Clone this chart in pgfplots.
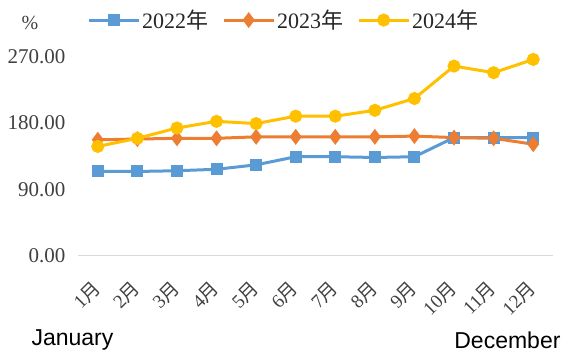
\documentclass[border=0pt]{standalone}
\usepackage{fontspec}
\setmainfont{Liberation Serif}
\newfontfamily\cjk{Noto Sans CJK SC}
\newfontfamily\arialf{Liberation Sans}
\usepackage{pgfplots}
\pgfplotsset{compat=1.18}
\definecolor{c22}{HTML}{5B9BD5}
\definecolor{c23}{HTML}{ED7D31}
\definecolor{c24}{HTML}{FFC000}
\definecolor{txt}{HTML}{404040}
\begin{document}
\begin{tikzpicture}[x=1bp,y=1bp]
\path[use as bounding box] (0,0) rectangle (564,356);
\begin{axis}[
  at={(78bp,100.5bp)}, anchor=south west,
  scale only axis, width=475bp, height=199bp,
  xmin=0.5, xmax=12.5, ymin=0, ymax=270,
  clip=false,
  axis line style={draw=none},
  major tick length=0pt,
  xtick={1,...,12},
  xticklabels={1{\cjk 月},2{\cjk 月},3{\cjk 月},4{\cjk 月},5{\cjk 月},6{\cjk 月},7{\cjk 月},8{\cjk 月},9{\cjk 月},10{\cjk 月},11{\cjk 月},12{\cjk 月}},
  x tick label style={rotate=45, anchor=east, font=\fontsize{19bp}{19bp}\selectfont, text=txt, xshift=-18bp, yshift=-20bp},
  ytick={0,90,180,270},
  yticklabel style={font=\fontsize{21bp}{21bp}\selectfont, text=txt, xshift=-9bp},
  /pgf/number format/assume math mode=true,
  yticklabel={\pgfmathprintnumber[fixed,fixed zerofill,precision=2]{\tick}},
  legend columns=3,
  legend style={at={(0.019,1.183)}, anchor=west, draw=none, fill=none, inner sep=0pt,
    font=\fontsize{22bp}{22bp}\selectfont, text=black!85,
    /tikz/every even column/.append style={column sep=12bp}},
  legend image code/.code={\draw[mark repeat=2,mark phase=2,#1] plot coordinates {(0bp,0bp)(25bp,0bp)(50bp,0bp)};},
]
\draw[black!15, line width=1.2bp] (axis cs:0.5,0) -- (axis cs:12.5,0);
\addplot[c22, line width=3bp, mark=square*, mark size=4.5bp, mark options={fill=c22}]
  coordinates {(1,114)(2,114)(3,115)(4,117)(5,123)(6,134)(7,134)(8,133)(9,134)(10,160)(11,160)(12,160)};
\addlegendentry{2022{\cjk 年}}
\addplot[c23, line width=3bp, mark=diamond*, mark size=5.5bp, mark options={fill=c23}]
  coordinates {(1,157)(2,158)(3,159)(4,159)(5,161)(6,161)(7,161)(8,161)(9,162)(10,160)(11,159)(12,151)};
\addlegendentry{2023{\cjk 年}}
\addplot[c24, line width=3bp, mark=*, mark size=5bp, mark options={fill=c24}]
  coordinates {(1,148)(2,159)(3,173)(4,182)(5,179)(6,189)(7,189)(8,197)(9,213)(10,257)(11,248)(12,266)};
\addlegendentry{2024{\cjk 年}}
\end{axis}
\node[text=txt, font=\fontsize{20bp}{20bp}\selectfont] at (30,333) {\%};
\node[anchor=west, font=\arialf\fontsize{23bp}{23bp}\selectfont, text=black] at (28,16) {January};
\node[anchor=east, font=\arialf\fontsize{23bp}{23bp}\selectfont, text=black] at (564,16) {December};
\end{tikzpicture}
\end{document}
